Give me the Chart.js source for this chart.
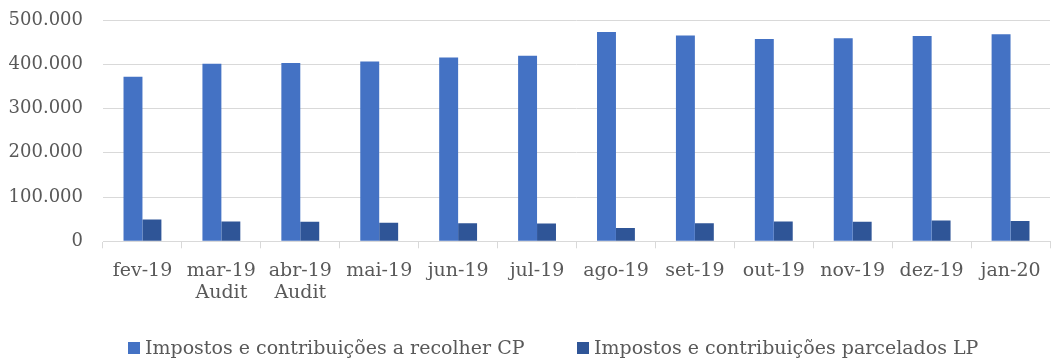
<!DOCTYPE html>
<html>
<head>
<meta charset="utf-8">
<script src="https://cdn.jsdelivr.net/npm/chart.js@4/dist/chart.umd.min.js"></script>
<style>
html,body{margin:0;padding:0;background:#fff;}
#wrap{width:1053px;height:360px;position:relative;}
</style>
</head>
<body>
<div id="wrap"><canvas id="c"></canvas></div>
<script>
const categories = [
  'fev-19', ['mar-19','Audit'], ['abr-19','Audit'], 'mai-19', 'jun-19', 'jul-19',
  'ago-19', 'set-19', 'out-19', 'nov-19', 'dez-19', 'jan-20'
];
const seriesNames = ['Impostos e contribuições a recolher CP', 'Impostos e contribuições parcelados LP'];
const recolherCP = [372000, 401000, 403000, 406000, 415000, 419000, 473000, 465000, 457000, 459000, 464000, 468000];
const parceladosLP = [49000, 45000, 44000, 42000, 41000, 40000, 30000, 41000, 45000, 44000, 47000, 46000];
const yTicks = [0, 100000, 200000, 300000, 400000, 500000];

function fmt(v){
  return String(Math.round(v)).replace(/\B(?=(\d{3})+(?!\d))/g, '.');
}

const FONT = "'DejaVu Serif', 'Liberation Serif', serif";
const TXT = '#595959';

// Custom bottom legend (Excel-like spacing)
const bottomLegend = {
  id: 'bottomLegend',
  afterDraw(chart) {
    const ctx = chart.ctx;
    const ds = chart.data.datasets;
    const starts = [128, 577];
    const cy = 348;
    ctx.save();
    ctx.font = '19px ' + FONT;
    ctx.textBaseline = 'middle';
    ctx.textAlign = 'left';
    ds.forEach((d, i) => {
      const x = starts[i];
      ctx.fillStyle = d.backgroundColor;
      ctx.fillRect(x, cy - 6, 12, 12);
      ctx.fillStyle = TXT;
      ctx.fillText(d.label, x + 17, cy + 1);
    });
    ctx.restore();
  }
};

new Chart(document.getElementById('c'), {
  type: 'bar',
  data: {
    labels: categories,
    datasets: [
      { label: seriesNames[0], data: recolherCP, backgroundColor: '#4472C4', categoryPercentage: 0.48, barPercentage: 1.0 },
      { label: seriesNames[1], data: parceladosLP, backgroundColor: '#2F5597', categoryPercentage: 0.48, barPercentage: 1.0 }
    ]
  },
  plugins: [bottomLegend],
  options: {
    responsive: true,
    maintainAspectRatio: false,
    animation: false,
    layout: { padding: { top: 0, right: 3, left: 0, bottom: 44 } },
    plugins: {
      legend: { display: false },
      tooltip: { enabled: false }
    },
    scales: {
      x: {
        grid: { display: true, drawOnChartArea: false, offset: true, color: '#d9d9d9', tickLength: 7, lineWidth: 1 },
        border: { display: true, color: '#d9d9d9' },
        ticks: { font: { family: FONT, size: 19, lineHeight: 1.15 }, color: TXT, maxRotation: 0, autoSkip: false, padding: 12 }
      },
      y: {
        min: 0, max: 500000,
        afterBuildTicks: (axis) => { axis.ticks = yTicks.map(v => ({ value: v })); },
        afterFit: (axis) => { axis.width = 103; axis.paddingTop = 20; axis.paddingBottom = 11; },
        grid: { color: '#d9d9d9', drawTicks: false, lineWidth: 1 },
        border: { display: false },
        ticks: { font: { family: FONT, size: 18 }, color: TXT, padding: 20, callback: (v) => fmt(v) }
      }
    }
  }
});
</script>
</body>
</html>
